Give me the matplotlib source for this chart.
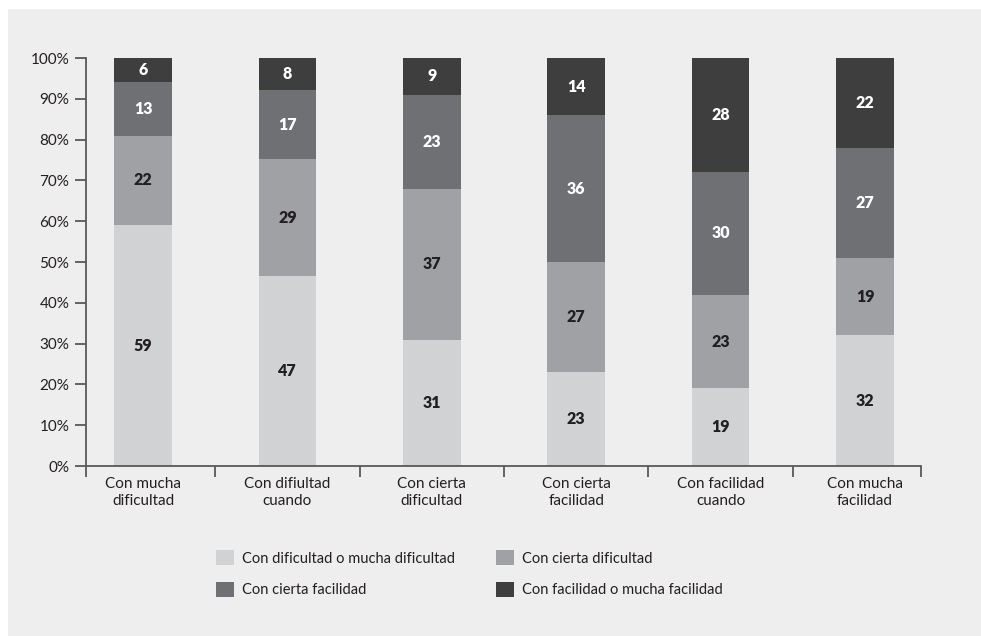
import matplotlib
matplotlib.use("Agg")
import matplotlib.pyplot as plt
import numpy as np
from matplotlib.patches import Rectangle
from matplotlib.ticker import FixedLocator

plt.rcParams['font.family'] = ['Lato', 'DejaVu Sans']

categories = ["Con mucha\ndificultad", "Con difiultad\ncuando", "Con cierta\ndificultad",
              "Con cierta\nfacilidad", "Con facilidad\ncuando", "Con mucha\nfacilidad"]
series_names = ["Con dificultad o mucha dificultad", "Con cierta dificultad",
                "Con cierta facilidad", "Con facilidad o mucha facilidad"]
muy_dificil = [59, 47, 31, 23, 19, 32]
cierta_dificultad = [22, 29, 37, 27, 23, 19]
cierta_facilidad = [13, 17, 23, 36, 30, 27]
muy_facil = [6, 8, 9, 14, 28, 22]

colors = ["#d1d2d4", "#a0a1a4", "#6f7073", "#3e3e3e"]
label_colors = ["#231f20", "#231f20", "white", "white"]
txt = "#231f20"
axis_col = "#58585a"

fig = plt.figure(figsize=(9.81, 6.36), dpi=100)
fig.patch.set_facecolor("white")
fig.patches.append(Rectangle((8 / 981, 0), 1, 1 - 9 / 636, transform=fig.transFigure,
                             facecolor="#eeeeee", edgecolor="none", zorder=-10))

ax = fig.add_axes([86 / 981, 1 - 466 / 636, (921 - 86) / 981, (466 - 58) / 636])
ax.set_facecolor("none")

data = np.array([muy_dificil, cierta_dificultad, cierta_facilidad, muy_facil], dtype=float)
totals = data.sum(axis=0)
x = np.arange(len(categories))
bottom = np.zeros(len(categories))
handles = []
for vals, col, lc, name in zip(data, colors, label_colors, series_names):
    h = vals / totals * 100
    bars = ax.bar(x, h, 0.4, bottom=bottom, color=col, label=name, zorder=2)
    handles.append(bars)
    for xi, b, hi, v in zip(x, bottom, h, vals):
        ax.text(xi, b + hi / 2, f"{int(v)}", ha="center", va="center",
                color=lc, fontsize=11.5, fontweight="heavy")
    bottom += h

ax.set_xlim(-0.395, 5.388)
ax.set_ylim(0, 100)
ax.set_yticks(np.arange(0, 101, 10))
ax.set_yticklabels([f"{v}%" for v in range(0, 101, 10)], fontsize=11, color=txt)

ax.xaxis.set_major_locator(FixedLocator([-0.395, 0.5, 1.5, 2.5, 3.5, 4.5, 5.388]))
ax.xaxis.set_major_formatter(plt.NullFormatter())
ax.xaxis.set_minor_locator(FixedLocator(x))
ax.set_xticklabels(categories, minor=True, fontsize=11, color=txt, linespacing=1.3)
ax.tick_params(axis="x", which="minor", length=0, pad=8)
ax.tick_params(axis="x", which="major", length=8, width=1.3, color=axis_col, direction="out")
ax.tick_params(axis="y", length=8, width=1.3, color=axis_col, pad=4)

for s in ["top", "right"]:
    ax.spines[s].set_visible(False)
for s in ["left", "bottom"]:
    ax.spines[s].set_color(axis_col)
    ax.spines[s].set_linewidth(1.3)

order = [handles[0], handles[2], handles[1], handles[3]]
fig.legend(order, [h.get_label() for h in order], ncol=2, frameon=False,
           loc="upper left", bbox_to_anchor=(203 / 981, 1 - 537 / 636),
           fontsize=10.5, handlelength=1.2, handleheight=1.2, handletextpad=0.55,
           columnspacing=2.85, labelspacing=1.1, labelcolor=txt)

fig.savefig("out.png", dpi=100, facecolor=fig.get_facecolor())
